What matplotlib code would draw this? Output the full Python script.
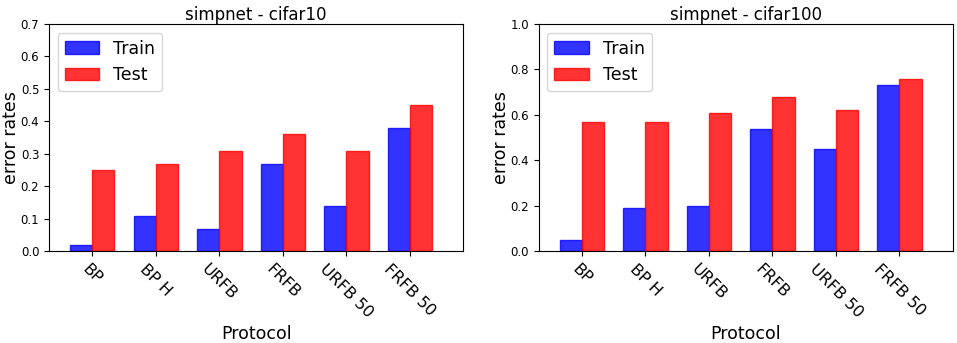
import matplotlib
matplotlib.use('Agg')
import matplotlib.pyplot as plt
import numpy as np

protocols = ['BP', 'BP H', 'URFB', 'FRFB', 'URFB 50', 'FRFB 50']

c10_train = [0.02, 0.11, 0.07, 0.27, 0.14, 0.38]
c10_test = [0.25, 0.27, 0.31, 0.36, 0.31, 0.45]

c100_train = [0.05, 0.19, 0.20, 0.54, 0.45, 0.73]
c100_test = [0.57, 0.57, 0.61, 0.68, 0.62, 0.76]

W, H = 957, 343
fig = plt.figure(figsize=(W / 100, H / 100), dpi=100)

bar_width = 0.35
index = np.arange(len(protocols))


def draw(rect, train, test, title, ymax, yticks):
    ax = fig.add_axes(rect)
    ax.bar(index - bar_width, train, bar_width, align='edge',
           color='b', edgecolor='b', linewidth=1, alpha=0.8, label='Train')
    ax.bar(index, test, bar_width, align='edge',
           color='r', edgecolor='r', linewidth=1, alpha=0.8, label='Test')
    ax.set_xlim(-0.68, 5.84)
    ax.set_ylim(0, ymax)
    ax.set_yticks(yticks)
    ax.set_yticklabels(['%.1f' % v for v in yticks], fontsize=8.5)
    ax.set_xticks(index)
    ax.set_xticklabels(protocols, rotation=-45, fontsize=11.5)
    ax.set_title(title, fontsize=12, pad=3)
    ax.set_xlabel('Protocol', fontsize=12.5)
    ax.set_ylabel('error rates', fontsize=12.5)
    ax.xaxis.set_label_coords(0.5, -0.325)
    ax.yaxis.set_label_coords(-0.069, 0.5)
    ax.legend(loc='upper left', fontsize=12.5)
    return ax


draw([49 / W, 1 - 251.3 / H, 414.3 / W, 227.3 / H], c10_train, c10_test,
     'simpnet - cifar10', 0.7, np.arange(0, 0.71, 0.1))
draw([538.7 / W, 1 - 251.3 / H, 414 / W, 227.3 / H], c100_train, c100_test,
     'simpnet - cifar100', 1.0, np.arange(0, 1.01, 0.2))

fig.savefig('out.png', dpi=100)
